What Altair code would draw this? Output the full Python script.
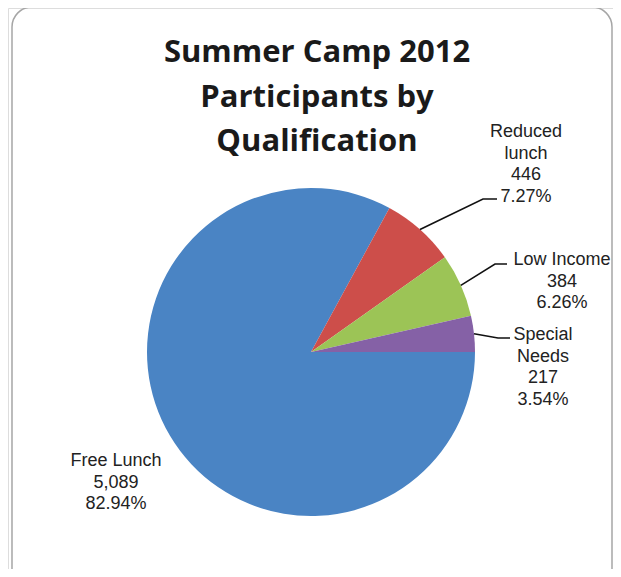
import math
import altair as alt
import numpy as np
import pandas as pd

# ---- data ----
categories = ["Free Lunch", "Reduced lunch", "Low Income", "Special Needs"]
counts = [5089, 446, 384, 217]
label_names = ["Free Lunch", "Reduced\nlunch", "Low Income", "Special\nNeeds"]
colors = ["#4A84C4", "#CD4E4A", "#9CC456", "#8561A6"]
title_lines = ["Summer Camp 2012", "Participants by", "Qualification"]

# ---- layout (pixels, chart coordinates) ----
W, H = 605, 561
CX, CY, R = 303, 344, 164
label_anchor = [(108, 458), (518, 129), (554, 257), (535, 332)]  # centre x, first baseline
leader_elbow = [None, (475, 191), (487, 256), (490, 330)]
leader_end = [None, (489, 191), (499, 256), (502, 330)]

total = sum(counts)
pct = [c / total * 100 for c in counts]

pie_df = pd.DataFrame({"category": categories, "count": counts, "idx": range(len(counts))})

label_df = pd.DataFrame({
    "x": [a[0] for a in label_anchor],
    "y": [a[1] for a in label_anchor],
    "text": [f"{n}\n{c:,}\n{p:.2f}%" for n, c, p in zip(label_names, counts, pct)],
})

rows = []
cum = 0
for i, c in enumerate(counts):
    mid = math.pi / 2 + 2 * math.pi * (cum + c / 2) / total
    cum += c
    if leader_elbow[i] is None:
        continue
    sx, sy = CX + R * math.sin(mid), CY - R * math.cos(mid)
    for k, (px, py) in enumerate([(sx, sy), leader_elbow[i], leader_end[i]]):
        rows.append({"g": categories[i], "k": k, "x": px, "y": py})
leader_df = pd.DataFrame(rows)

title_df = pd.DataFrame({"x": [309], "y": [54], "text": ["\n".join(title_lines)]})

xs = alt.Scale(domain=[0, W], range=[0, W], nice=False, zero=False)
ys = alt.Scale(domain=[0, H], range=[0, H], nice=False, zero=False)

pie = alt.Chart(pie_df).mark_arc(outerRadius=R, stroke=None).encode(
    x=alt.value(CX),
    y=alt.value(CY),
    theta=alt.Theta("count:Q", stack=True,
                    scale=alt.Scale(range=[math.pi / 2, math.pi / 2 + 2 * math.pi])),
    color=alt.Color("category:N", scale=alt.Scale(domain=categories, range=colors), legend=None),
    order=alt.Order("idx:Q"),
)

leaders = alt.Chart(leader_df).mark_line(color="#111111", strokeWidth=1.6).encode(
    x=alt.X("x:Q", scale=xs, axis=None),
    y=alt.Y("y:Q", scale=ys, axis=None),
    detail="g:N",
    order="k:Q",
)

labels = alt.Chart(label_df).mark_text(
    font="Liberation Sans", fontSize=18, color="#222222", align="center",
    baseline="alphabetic", lineBreak="\n", lineHeight=21.6,
).encode(
    x=alt.X("x:Q", scale=xs, axis=None),
    y=alt.Y("y:Q", scale=ys, axis=None),
    text="text:N",
)

title = alt.Chart(title_df).mark_text(
    font="Open Sans", fontSize=31, fontWeight="bold", color="#1a1a1a", align="center",
    baseline="alphabetic", lineBreak="\n", lineHeight=44.5,
).encode(
    x=alt.X("x:Q", scale=xs, axis=None),
    y=alt.Y("y:Q", scale=ys, axis=None),
    text="text:N",
)

border = alt.Chart(pd.DataFrame({"a": [0]})).mark_rect(
    filled=False, stroke="#A6A6A6", strokeWidth=1.5, cornerRadius=20,
).encode(
    x=alt.value(4), x2=alt.value(604), y=alt.value(-1), y2=alt.value(590),
)

chart = alt.layer(border, pie, leaders, labels, title).properties(
    width=W, height=H, autosize=alt.AutoSizeParams(type="none"), padding=0,
).configure_view(stroke=None).configure(background="white")

chart.save("out.html", embed_options={"renderer": "svg", "actions": False})
